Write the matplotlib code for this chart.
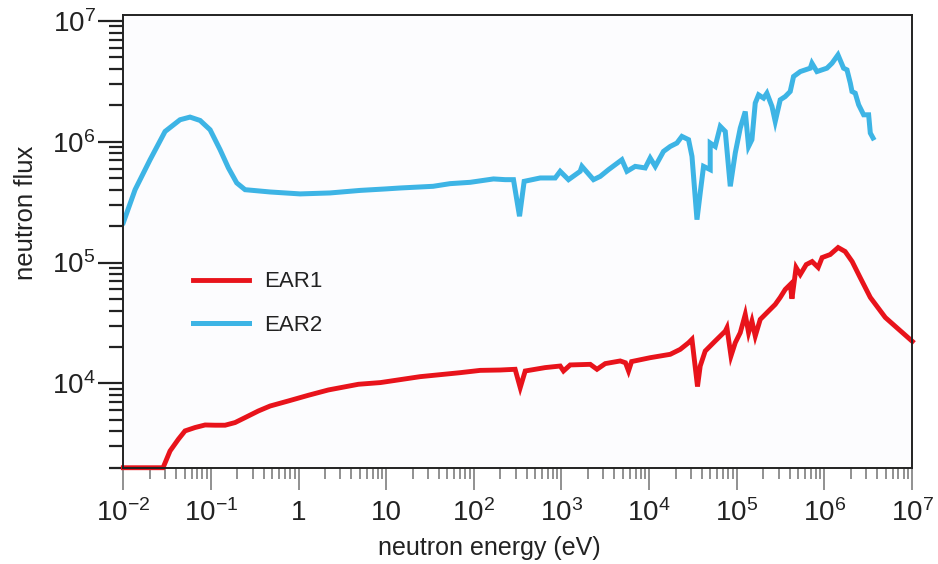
import numpy as np
import matplotlib
matplotlib.use('Agg')
import matplotlib.pyplot as plt

# values, as log10(energy / eV) and log10(flux)
ear2_log_e = [-2.0, -1.866, -1.695, -1.524, -1.353, -1.239, -1.124, -1.010, -0.896, -0.801,
              -0.706, -0.611, -0.325, 0.017, 0.359, 0.702, 0.987, 1.158, 1.535, 1.729,
              1.958, 2.224, 2.357, 2.452, 2.521, 2.574, 2.757, 2.928, 2.985, 3.080,
              3.213, 3.233, 3.365, 3.442, 3.537, 3.613, 3.689, 3.747, 3.841, 3.955,
              4.012, 4.070, 4.164, 4.241, 4.317, 4.374, 4.450, 4.489, 4.546, 4.583,
              4.621, 4.697, 4.697, 4.754, 4.812, 4.869, 4.926, 4.983, 5.040, 5.097,
              5.135, 5.173, 5.211, 5.249, 5.306, 5.344, 5.402, 5.439, 5.496, 5.553,
              5.610, 5.648, 5.725, 5.839, 5.858, 5.915, 6.029, 6.087, 6.155, 6.219,
              6.258, 6.296, 6.315, 6.352, 6.391, 6.448, 6.505, 6.524, 6.555]
ear2_log_flux = [5.331, 5.603, 5.851, 6.085, 6.182, 6.204, 6.176, 6.099, 5.934, 5.783,
                 5.659, 5.603, 5.584, 5.568, 5.576, 5.597, 5.609, 5.617, 5.631, 5.653,
                 5.664, 5.692, 5.686, 5.686, 5.383, 5.672, 5.700, 5.700, 5.755, 5.686,
                 5.755, 5.796, 5.686, 5.713, 5.769, 5.810, 5.851, 5.755, 5.796, 5.783,
                 5.865, 5.796, 5.920, 5.961, 5.989, 6.044, 6.017, 5.879, 5.355, 5.576,
                 5.796, 5.769, 5.989, 5.961, 6.127, 6.085, 5.631, 5.907, 6.113, 6.250,
                 5.961, 6.017, 6.320, 6.388, 6.361, 6.402, 6.292, 6.168, 6.347, 6.374,
                 6.416, 6.540, 6.581, 6.609, 6.650, 6.581, 6.609, 6.650, 6.719, 6.609,
                 6.595, 6.485, 6.416, 6.402, 6.306, 6.223, 6.223, 6.072, 6.031]

ear1_log_e = [-2.0, -1.547, -1.467, -1.372, -1.296, -1.181, -1.067, -0.953, -0.839, -0.725,
              -0.611, -0.459, -0.325, -0.116, 0.112, 0.340, 0.683, 0.934, 1.387, 1.844,
              2.072, 2.300, 2.471, 2.529, 2.586, 2.814, 2.985, 3.023, 3.099, 3.328,
              3.405, 3.499, 3.670, 3.730, 3.765, 3.800, 4.012, 4.241, 4.355, 4.450,
              4.489, 4.552, 4.583, 4.640, 4.754, 4.869, 4.888, 4.934, 4.983, 5.040,
              5.097, 5.135, 5.173, 5.211, 5.268, 5.382, 5.439, 5.496, 5.553, 5.610,
              5.630, 5.677, 5.725, 5.793, 5.860, 5.929, 5.974, 6.066, 6.157, 6.237,
              6.317, 6.408, 6.524, 6.695, 6.810, 7.004]
ear1_log_flux = [3.301, 3.301, 3.440, 3.537, 3.606, 3.634, 3.655, 3.653, 3.653, 3.675,
                 3.716, 3.771, 3.812, 3.854, 3.901, 3.945, 3.992, 4.006, 4.055, 4.088,
                 4.107, 4.110, 4.116, 3.964, 4.102, 4.130, 4.143, 4.102, 4.152, 4.157,
                 4.116, 4.163, 4.185, 4.170, 4.102, 4.180, 4.212, 4.240, 4.281, 4.336,
                 4.364, 3.973, 4.143, 4.267, 4.350, 4.432, 4.460, 4.226, 4.336, 4.419,
                 4.570, 4.419, 4.515, 4.391, 4.529, 4.612, 4.653, 4.711, 4.777, 4.818,
                 4.700, 4.959, 4.901, 4.983, 5.008, 4.959, 5.041, 5.066, 5.124, 5.091,
                 5.008, 4.876, 4.711, 4.545, 4.471, 4.347]

x_ticks = [1e-2, 1e-1, 1, 10, 1e2, 1e3, 1e4, 1e5, 1e6, 1e7]
x_labels = ['$10^{-2}$', '$10^{-1}$', '1', '10', '$10^{2}$', '$10^{3}$',
            '$10^{4}$', '$10^{5}$', '$10^{6}$', '$10^{7}$']
y_ticks = [1e4, 1e5, 1e6, 1e7]
y_labels = ['$10^{4}$', '$10^{5}$', '$10^{6}$', '$10^{7}$']

fonts = ['Liberation Sans', 'DejaVu Sans']
plt.rcParams['font.family'] = fonts
plt.rcParams['mathtext.fontset'] = 'custom'
plt.rcParams['mathtext.rm'] = fonts[0]
plt.rcParams['mathtext.it'] = fonts[0]
plt.rcParams['mathtext.default'] = 'regular'

red = '#e8131b'
blue = '#3db4e5'

fig = plt.figure(figsize=(9.38, 5.64), dpi=100)
ax = fig.add_axes([0.1315, 0.1707, 0.8408, 0.8027])
ax.set_facecolor('#fcfcfe')

ax.plot(10 ** np.array(ear1_log_e), 10 ** np.array(ear1_log_flux), color=red, lw=3.5,
        label='EAR1', clip_on=False, solid_joinstyle='miter')
ax.plot(10 ** np.array(ear2_log_e), 10 ** np.array(ear2_log_flux), color=blue, lw=3.6,
        label='EAR2', solid_joinstyle='miter')

ax.set_xscale('log')
ax.set_yscale('log')
ax.set_xlim(1e-2, 1e7)
ax.set_ylim(2000, 1.12e7)

ax.set_xticks(x_ticks)
ax.set_xticklabels(x_labels)
ax.set_yticks(y_ticks)
ax.set_yticklabels(y_labels)
ax.xaxis.set_minor_locator(matplotlib.ticker.LogLocator(base=10, subs=np.arange(2, 10), numticks=20))
ax.yaxis.set_minor_locator(matplotlib.ticker.LogLocator(base=10, subs=np.arange(2, 10), numticks=20))
ax.xaxis.set_minor_formatter(matplotlib.ticker.NullFormatter())
ax.yaxis.set_minor_formatter(matplotlib.ticker.NullFormatter())

ax.tick_params(axis='x', which='major', direction='out', length=16, width=1.3,
               color='#888888', labelsize=20, pad=7, labelcolor='#222222')
ax.tick_params(axis='x', which='minor', direction='out', length=8, width=1.3, color='#888888')
ax.tick_params(axis='y', which='major', direction='out', length=18, width=1.6,
               color='#222222', labelsize=20, pad=2, labelcolor='#222222')
ax.tick_params(axis='y', which='minor', direction='out', length=10, width=1.6, color='#222222')

for s in ax.spines.values():
    s.set_linewidth(1.4)
    s.set_color('#222222')

ax.set_xlabel('neutron energy (eV)', fontsize=18, color='#222222')
ax.set_ylabel('neutron flux', fontsize=18.5, color='#222222')
ax.xaxis.set_label_coords(0.464, -0.150)
ax.yaxis.set_label_coords(-0.108, 0.563)

leg = ax.legend(loc='upper left', bbox_to_anchor=(0.063, 0.478), frameon=False,
                fontsize=16, handlelength=2.5, labelspacing=1.0, handletextpad=0.7)
for t in leg.get_texts():
    t.set_color('#222222')

fig.savefig('out.png', dpi=100)
